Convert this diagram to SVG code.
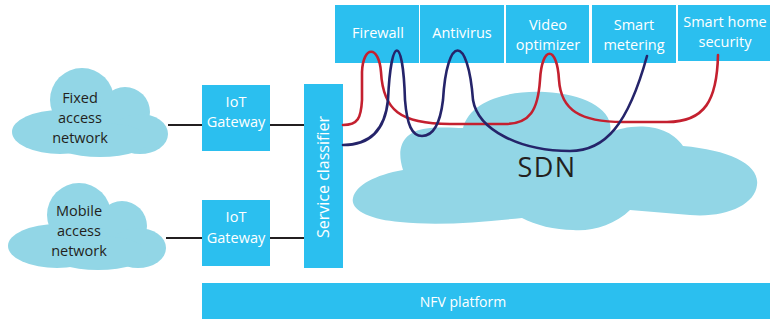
<svg xmlns="http://www.w3.org/2000/svg" width="770" height="323" viewBox="0 0 770 323">
  <style>
    .box { fill: #2bbfef; }
    .cloud { fill: #92d6e6; }
    .wt { fill: #ffffff; font-family: "Open Sans", "Noto Sans", sans-serif; font-size: 14.5px; text-anchor: middle; }
    .dk { fill: #231f20; font-family: "Open Sans", "Noto Sans", sans-serif; font-size: 14.5px; text-anchor: middle; }
    .link { stroke: #231f20; stroke-width: 2; fill: none; }
    .red { stroke: #c4202f; stroke-width: 2.6; fill: none; stroke-linecap: round; }
    .navy { stroke: #25246a; stroke-width: 2.6; fill: none; stroke-linecap: round; }
  </style>

  <!-- SDN cloud (background) -->
  <g id="sdn">
    <path class="cloud" d="M403,170 C395,145 405,130 430,128 C445,127 455,128 463,128 C470,100 510,90 545,92 C585,94 615,110 610,133 C625,125 665,120 683,146 C730,150 760,165 757,185 C755,205 725,218 690,215 L630,210 C615,225 590,232 573,230 C555,230 535,225 522,218 C480,222 440,226 400,222 C370,220 350,210 353,198 C356,185 375,175 403,170 Z"/>
    <text x="547" y="177" class="dk" style="font-size:27px;letter-spacing:1.5px">SDN</text>
  </g>

  <!-- access clouds -->
  <g id="fixed-access">
    <ellipse class="cloud" cx="60" cy="132" rx="48" ry="22"/>
    <circle class="cloud" cx="82" cy="100" r="32"/>
    <circle class="cloud" cx="125" cy="112" r="25"/>
    <ellipse class="cloud" cx="140" cy="134" rx="28" ry="20"/>
    <ellipse class="cloud" cx="100" cy="140" rx="50" ry="17"/>
    <text x="80" y="103" class="dk">Fixed</text>
    <text x="80" y="123" class="dk">access</text>
    <text x="80" y="143" class="dk">network</text>
  </g>
  <g id="mobile-access">
    <ellipse class="cloud" cx="57" cy="246" rx="49" ry="22"/>
    <circle class="cloud" cx="79" cy="215" r="32"/>
    <circle class="cloud" cx="122" cy="226" r="25"/>
    <ellipse class="cloud" cx="138" cy="248" rx="28" ry="20"/>
    <ellipse class="cloud" cx="98" cy="253" rx="50" ry="17"/>
    <text x="79" y="216" class="dk">Mobile</text>
    <text x="79" y="236" class="dk">access</text>
    <text x="79" y="256" class="dk">network</text>
  </g>

  <!-- gateways -->
  <g id="gateway-fixed">
    <rect class="box" x="202" y="85" width="68" height="66"/>
    <text x="236" y="107" class="wt">IoT</text>
    <text x="236" y="127" class="wt">Gateway</text>
  </g>
  <g id="gateway-mobile">
    <rect class="box" x="202" y="200" width="68" height="66"/>
    <text x="236" y="222" class="wt">IoT</text>
    <text x="236" y="243" class="wt">Gateway</text>
  </g>

  <g id="service-classifier">
    <rect class="box" x="304" y="84" width="39" height="184"/>
    <text class="wt" transform="translate(329,177) rotate(-90)" style="font-size:16px">Service classifier</text>
  </g>

  <!-- network functions -->
  <g id="firewall">
    <rect class="box" x="335" y="5" width="84" height="58"/>
    <text x="378" y="38" class="wt">Firewall</text>
  </g>
  <g id="antivirus">
    <rect class="box" x="420" y="5" width="84" height="58"/>
    <text x="462" y="38" class="wt">Antivirus</text>
  </g>
  <g id="video-optimizer">
    <rect class="box" x="506" y="5" width="83" height="58"/>
    <text x="548" y="30" class="wt">Video</text>
    <text x="548" y="50" class="wt">optimizer</text>
  </g>
  <g id="smart-metering">
    <rect class="box" x="592" y="5" width="84" height="58"/>
    <text x="634" y="30" class="wt">Smart</text>
    <text x="634" y="50" class="wt">metering</text>
  </g>
  <g id="smart-home-security">
    <rect class="box" x="678" y="5" width="92" height="56"/>
    <text x="725" y="27" class="wt">Smart home</text>
    <text x="725" y="47" class="wt">security</text>
  </g>

  <g id="nfv-platform">
    <rect class="box" x="202" y="283" width="568" height="36"/>
    <text x="463" y="307" class="wt" style="font-size:14px">NFV platform</text>
  </g>

  <!-- connectors and service chains -->
  <g id="connectors">
    <line class="link" x1="168" y1="125" x2="202" y2="125"/>
    <line class="link" x1="270" y1="125" x2="304" y2="125"/>
    <line class="link" x1="166" y1="238" x2="202" y2="238"/>
    <line class="link" x1="270" y1="238" x2="304" y2="238"/>
    <path class="red" d="M343,125 C358,125 361,118 362,100 L362,72 C363,45 379,45 381,72 C383,110 400,124 450,124 L505,124 C530,124 538,110 540,80 C542,45 557,45 559,80 C561,110 580,122 623,122 L667,122 C705,122 717,100 718,55"/>
    <path class="navy" d="M343,145 C370,145 385,130 388,100 C391,34 403,34 405,100 C407,125 412,136 422,136 C432,136 440,125 443,100 C447,34 468,34 473,100 C478,130 520,151 570,151 C605,151 628,125 647,56"/>
  </g>
</svg>
